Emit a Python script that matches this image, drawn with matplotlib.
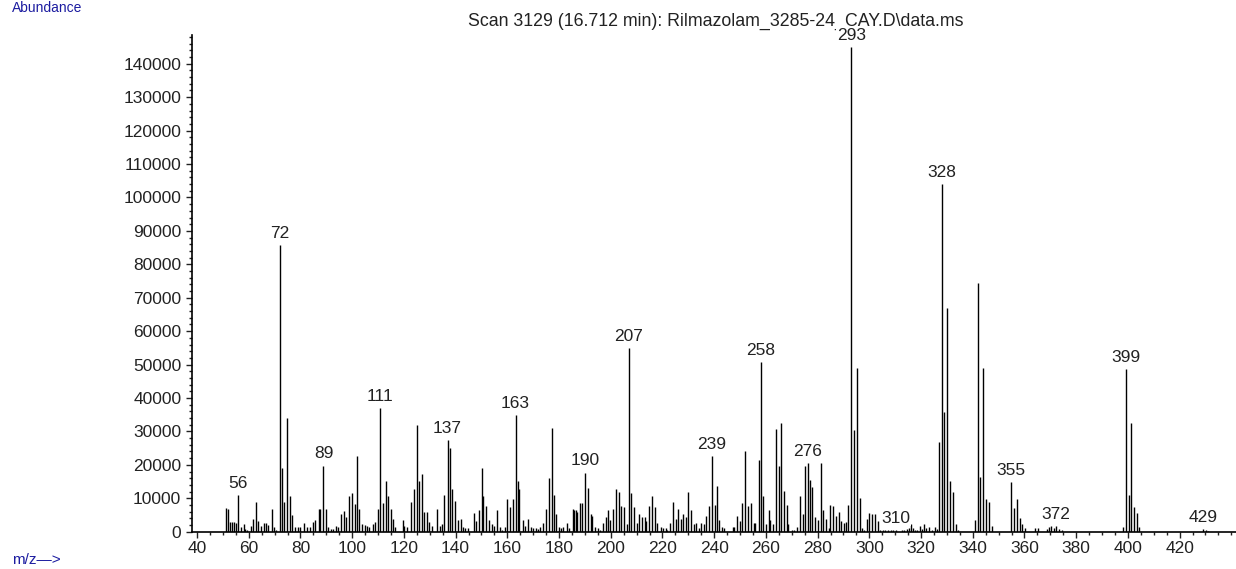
import matplotlib
matplotlib.use("Agg")
import matplotlib.pyplot as plt
from matplotlib.ticker import MultipleLocator

# peak list (m/z, abundance)
mz = [
    51.2, 52.1, 52.6, 53.5, 54.4, 55.1, 56.0, 57.0, 58.0, 58.6, 59.3, 60.8, 61.8, 62.8, 63.7,
    64.9, 65.9, 66.8, 67.6, 68.9, 69.9, 70.7, 72.1, 73.0, 73.5, 74.8, 75.8, 76.9, 78.0, 78.9,
    80.0, 81.2, 82.7, 83.6, 84.9, 85.8, 87.2, 87.7, 88.9, 89.8, 90.8, 91.8, 92.7, 93.9, 94.7,
    95.7, 96.7, 97.7, 98.9, 99.8, 101.1, 101.7, 102.8, 103.9, 104.8, 105.7, 106.5, 108.2, 109.0,
    109.9, 110.9, 111.9, 113.0, 114.0, 115.0, 115.7, 116.7, 119.5, 120.2, 121.1, 122.8, 123.8,
    124.9, 125.8, 127.0, 127.9, 128.9, 129.7, 130.7, 132.9, 133.8, 134.7, 135.5, 136.9, 137.7,
    138.7, 139.8, 141.1, 142.1, 142.9, 143.8, 144.8, 147.0, 148.0, 149.0, 150.2, 150.7, 151.9,
    152.8, 154.0, 155.0, 156.1, 157.2, 157.9, 159.0, 159.9, 160.9, 162.1, 163.2, 164.1, 164.6,
    165.9, 167.0, 168.0, 169.0, 169.9, 171.0, 171.7, 172.8, 173.8, 174.8, 176.0, 177.3, 178.2,
    178.7, 180.0, 180.8, 181.7, 183.0, 184.0, 185.3, 185.8, 186.4, 186.9, 188.0, 189.0, 190.0,
    191.2, 192.2, 192.7, 193.9, 194.9, 196.0, 197.1, 198.2, 199.1, 199.6, 200.7, 202.0, 203.1,
    204.1, 205.1, 206.2, 206.9, 207.8, 209.0, 210.0, 211.0, 212.1, 213.1, 213.6, 214.8, 215.8,
    217.0, 218.0, 219.3, 220.3, 221.2, 221.9, 222.9, 224.0, 225.1, 226.1, 227.2, 227.8, 229.0,
    230.0, 231.0, 232.1, 233.1, 234.2, 234.9, 235.9, 237.0, 238.0, 239.1, 240.2, 241.2, 241.7,
    242.9, 243.8, 247.3, 247.8, 248.8, 249.9, 250.9, 252.0, 253.1, 254.1, 255.4, 255.9, 257.5,
    258.0, 259.0, 260.2, 261.2, 261.7, 262.7, 263.8, 265.0, 266.0, 267.0, 268.2, 268.7, 270.0,
    271.0, 272.0, 273.2, 274.2, 275.1, 276.3, 277.2, 277.8, 278.9, 280.1, 281.2, 282.2, 283.2,
    284.4, 284.9, 285.9, 287.0, 288.1, 289.2, 290.2, 291.0, 291.9, 293.1, 294.1, 295.1, 296.3,
    297.3, 297.9, 299.0, 300.0, 301.0, 302.1, 303.2, 304.2, 305.2, 306.2, 307.2, 308.3, 309.3,
    310.2, 312.6, 313.5, 314.7, 315.3, 316.1, 316.9, 317.8, 318.5, 319.6, 320.2, 321.1, 322.1,
    323.1, 324.2, 325.4, 326.2, 326.9, 328.0, 329.0, 330.0, 331.2, 332.2, 333.4, 334.4, 340.8,
    341.9, 342.9, 343.9, 345.2, 346.3, 347.3, 354.9, 355.9, 357.1, 358.1, 359.2, 360.2, 364.1,
    365.1, 368.6, 369.5, 370.2, 371.3, 372.3, 373.2, 374.4, 398.2, 399.1, 400.3, 401.3, 402.3,
    403.4, 404.1, 429.2, 430.1, 430.8,
]
abundance = [
    7200, 6800, 3000, 3000, 2800, 2500, 11000, 1300, 2200, 800, 500, 1800, 3900, 8900, 3300,
    1800, 2600, 2500, 2000, 6800, 1400, 500, 85800, 19000, 8900, 34000, 10700, 5100, 1400, 1400,
    1400, 2700, 1400, 1400, 3000, 3400, 6800, 6800, 19800, 6800, 1400, 900, 900, 1700, 1400,
    5200, 6100, 4300, 10600, 11500, 8200, 22700, 6800, 2200, 1900, 1800, 1400, 2200, 3000,
    6800, 36900, 8500, 15200, 10600, 6800, 3800, 1400, 3500, 1800, 1400, 9000, 12700,
    32000, 15200, 17300, 6000, 6000, 3000, 1800, 6800, 1800, 2200, 11000, 27300, 24900,
    12700, 9300, 3500, 3900, 1500, 1000, 1000, 5600, 3100, 6400, 19000, 10600, 7700,
    3500, 2200, 1800, 6400, 1400, 600, 1400, 9800, 7300, 9800, 34900, 15200, 12700,
    3500, 1800, 3900, 1400, 1000, 1000, 800, 1400, 2700, 6800, 16100, 31100, 11000,
    5200, 1400, 1000, 1400, 2700, 1000, 6800, 6600, 6400, 6000, 8500, 8500, 17700,
    13100, 5200, 4800, 1400, 1000, 600, 2700, 4300, 6400, 3500, 6800, 12700, 11900,
    7700, 7300, 2200, 55000, 11500, 7300, 2700, 5200, 4300, 4300, 3100, 7700, 10600,
    7300, 2700, 1400, 1000, 1000, 600, 2700, 8900, 3900, 6800, 3900, 5200, 4300,
    11900, 6400, 2200, 2700, 1000, 2700, 2200, 4800, 7700, 22700, 8100, 13600, 3500,
    1400, 1000, 1400, 1400, 4800, 3100, 8500, 24000, 7700, 8500, 2700, 2700, 21500,
    50800, 10600, 2200, 6400, 3500, 2200, 30700, 19800, 32400, 12300, 8100, 2200, 400,
    400, 1400, 10600, 5200, 19800, 20600, 15500, 13500, 4300, 3500, 20600, 6400, 3900,
    1000, 8100, 7700, 4800, 6000, 3100, 2700, 3000, 8100, 145100, 30300, 48900, 10200,
    1000, 400, 3900, 5600, 5200, 5200, 3100, 600, 500, 600, 500, 600, 500,
    600, 600, 600, 700, 1000, 2200, 1000, 400, 600, 1800, 700, 2200, 1000,
    1400, 400, 1400, 800, 26900, 104000, 35700, 66800, 15200, 11800, 2200, 400, 3500,
    74500, 16500, 48900, 9800, 8900, 1800, 14800, 7200, 9800, 4000, 2300, 1000, 1000,
    1000, 700, 1300, 1800, 1100, 1800, 700, 500, 1500, 48600, 11000, 32500, 7300,
    5700, 1500, 900, 500, 300,
]
labeled = [56, 72, 89, 111, 137, 163, 190, 207, 239, 258, 276, 293, 310, 328, 355, 372, 399, 429]

title = "Scan 3129 (16.712 min): Rilmazolam_3285-24_CAY.D\\data.ms"

plt.rcParams["font.family"] = ["Liberation Sans", "DejaVu Sans"]
plt.rcParams["font.size"] = 12.5

W, H = 1236, 569
fig = plt.figure(figsize=(W / 100, H / 100), dpi=100)
ax = fig.add_axes([191.7 / W, 37.3 / H, (W - 191.7) / W, (534 - 37.3) / H])

ax.vlines(mz, 0, abundance, color="black", linewidth=1.0)

ax.set_xlim(37.95, 441.8)
ax.set_ylim(0, 148600)
for s in ["top", "right"]:
    ax.spines[s].set_visible(False)
ax.spines["left"].set_linewidth(1.2)
ax.spines["bottom"].set_linewidth(1.2)

ax.set_xticks(range(40, 421, 20))
ax.xaxis.set_minor_locator(MultipleLocator(5))
ax.set_yticks(range(0, 140001, 10000))
ax.set_yticklabels([str(v) for v in range(0, 140001, 10000)])
ax.yaxis.set_minor_locator(MultipleLocator(2000))
ax.tick_params(axis="both", which="major", direction="out", length=4.5, width=1, colors="#222222")
ax.tick_params(axis="both", which="minor", direction="out", length=2.5, width=1, color="#222222")
ax.tick_params(axis="x", which="major", pad=2)
ax.tick_params(axis="y", which="major", pad=3)

# title sits behind the peak labels (293 covers part of it, like the original)
ax.text(715.4 / W, 1 - 26 / H, title, transform=fig.transFigure, ha="center", va="baseline",
        color="#222222", fontsize=12.8, zorder=1)

for lab in labeled:
    near = [i for i in range(len(mz)) if abs(mz[i] - lab) <= 0.7]
    i = max(near, key=lambda k: abundance[k])
    ax.annotate(str(lab), (mz[i], abundance[i]), xytext=(0, 3), textcoords="offset points",
                ha="center", va="bottom", color="#222222", zorder=5,
                bbox=dict(facecolor="white", edgecolor="none", pad=0.5))

fig.text(12 / W, 1 - 1 / H, "Abundance", color="#1c1ca0", ha="left", va="top", fontsize=10)
fig.text(12 / W, 5 / H, "m/z\u2014>", color="#1c1ca0", ha="left", va="baseline", fontsize=11)

fig.savefig("out.png", dpi=100)
